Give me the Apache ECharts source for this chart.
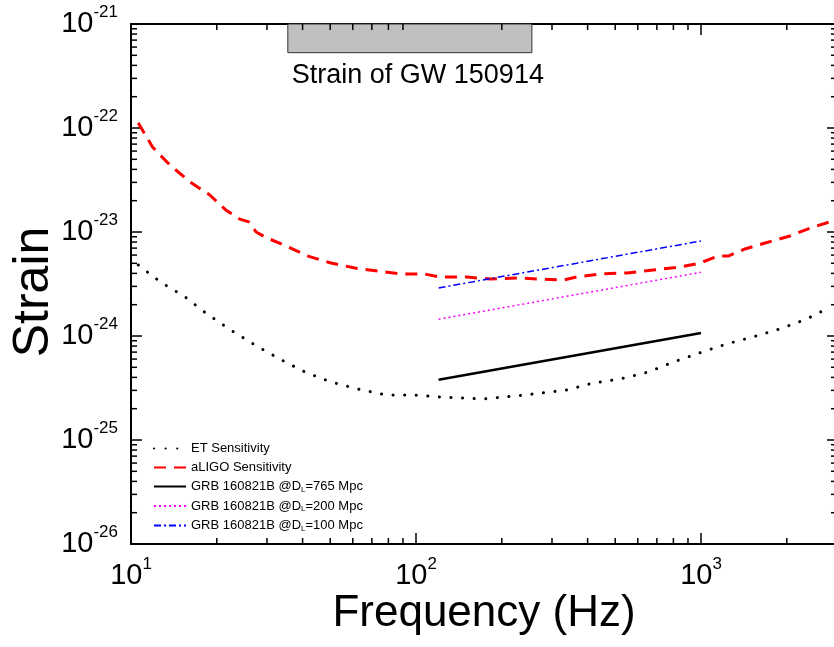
<!DOCTYPE html>
<html>
<head>
<meta charset="utf-8">
<script src="https://cdn.jsdelivr.net/npm/echarts@6/dist/echarts.min.js"></script>
<style>
  html, body { margin: 0; padding: 0; background: #fff; }
  #chart { width: 834px; height: 647px; }
</style>
</head>
<body>
<div id="chart"></div>
<script>
  // ET sensitivity curve (black dotted)
  const etFreq = [10.6, 12.7, 15.5, 18.3, 22.4, 27.2, 33.3, 40.8, 50.4, 62.6, 78.5, 97.6, 122, 172, 241, 339, 418, 520, 652, 798, 991, 1233, 1522, 1891, 2355, 2837];
  const etStrain = [4.82e-24, 3.3e-24, 2.37e-24, 1.66e-24, 1.14e-24, 8.2e-25, 6.0e-25, 4.5e-25, 3.61e-25, 3.09e-25, 2.71e-25, 2.71e-25, 2.59e-25, 2.48e-25, 2.71e-25, 3.03e-25, 3.53e-25, 3.86e-25, 4.5e-25, 5.6e-25, 6.9e-25, 8.4e-25, 9.8e-25, 1.17e-24, 1.46e-24, 1.9e-24];

  // aLIGO sensitivity curve (red dashed)
  const ligoFreq = [10.6, 11.9, 13.7, 16.1, 18.9, 21.5, 24.1, 25.9, 27.5, 29.5, 35.6, 41.8, 50.3, 61.1, 73.6, 88.5, 107, 121, 151, 182, 226, 272, 328, 367, 443, 550, 680, 844, 991, 1148, 1245, 1426, 1679, 2052, 2411, 2904];
  const ligoStrain = [1.12e-22, 6.56e-23, 4.4e-23, 3.03e-23, 2.27e-23, 1.63e-23, 1.33e-23, 1.25e-23, 1.0e-23, 8.95e-24, 7.18e-24, 5.87e-24, 5.03e-24, 4.5e-24, 4.22e-24, 3.95e-24, 3.95e-24, 3.69e-24, 3.69e-24, 3.53e-24, 3.61e-24, 3.53e-24, 3.45e-24, 3.7e-24, 3.95e-24, 4.04e-24, 4.31e-24, 4.6e-24, 5.03e-24, 5.87e-24, 5.87e-24, 6.87e-24, 7.84e-24, 9.16e-24, 1.09e-23, 1.28e-23];

  // GRB 160821B strain at three distances
  const grbFreq = [120, 1000];
  const grb765 = [3.8e-25, 1.07e-24];
  const grb200 = [1.45e-24, 4.1e-24];
  const grb100 = [2.9e-24, 8.2e-24];

  // GW150914 strain band
  const gwBoxFreq = [35.5, 255];
  const gwBoxStrain = [5.3e-22, 1e-21];

  // axis ranges and ticks
  const X_MIN = 10, X_MAX = 3000;
  const Y_MIN = 1e-26, Y_MAX = 1e-21;
  const minorSteps = [2, 3, 4, 5, 6, 7, 8, 9];
  const xDecades = [10, 100, 1000];
  const yDecades = [1e-26, 1e-25, 1e-24, 1e-23, 1e-22];

  // x minor ticks: [freq, anchor strain]
  const xMinor = [];
  xDecades.forEach(d => minorSteps.forEach(m => { if (d * m < X_MAX) xMinor.push([d * m, 1e-24]); }));
  // y ticks: [anchor freq, strain, isMajor]
  const yTicks = [];
  yDecades.forEach((d, i) => {
    if (i > 0) yTicks.push([X_MIN, d, 1]);
    minorSteps.forEach(m => yTicks.push([X_MIN, d * m, 0]));
  });

  const FONT = '"Liberation Sans", Arial, sans-serif';
  const pair = (xs, ys) => xs.map((x, i) => [x, ys[i]]);

  function powLabel(v) {
    if (!(v > 0)) return '';
    const e = Math.log10(v);
    if (Math.abs(e - Math.round(e)) > 1e-6) return '';
    return '10{sup|' + Math.round(e) + '}';
  }
  const labelRich = {
    sup: { fontSize: 17, fontFamily: FONT, color: '#000', verticalAlign: 'top', lineHeight: 40 }
  };

  const chart = echarts.init(document.getElementById('chart'), null, { renderer: 'canvas' });

  const tick = (x1, y1, x2, y2) => ({
    type: 'line', shape: { x1, y1, x2, y2 }, style: { stroke: '#000', lineWidth: 1.5 }
  });

  chart.setOption({
    animation: false,
    backgroundColor: '#fff',
    grid: { left: 131, top: 24, width: 706, bottom: 103, outerBoundsMode: 'none' },
    legend: {
      data: ['ET Sensitivity', 'aLIGO Sensitivity', 'GRB 160821B @D_L=765 Mpc', 'GRB 160821B @D_L=200 Mpc', 'GRB 160821B @D_L=100 Mpc'],
      orient: 'vertical',
      left: 148,
      top: 437,
      itemWidth: 32,
      itemHeight: 13,
      itemGap: 6,
      itemStyle: { opacity: 0, borderWidth: 0 },
      formatter: name => name.replace('D_L', 'D{sub|L}'),
      textStyle: {
        fontFamily: FONT, fontSize: 13, color: '#000',
        rich: { sub: { fontFamily: FONT, fontSize: 8, color: '#000', verticalAlign: 'bottom', padding: [6, 0, 0, 0] } }
      }
    },
    xAxis: [
      {
        type: 'log', logBase: 10, min: X_MIN, max: X_MAX,
        name: 'Frequency (Hz)', nameLocation: 'middle', nameGap: 48, nameMoveOverlap: false,
        nameTextStyle: { fontFamily: FONT, fontSize: 44, color: '#000' },
        axisLine: { lineStyle: { color: '#000', width: 2 } },
        axisTick: { inside: true, length: 11, lineStyle: { color: '#000', width: 1.5 } },
        axisLabel: { formatter: powLabel, fontFamily: FONT, fontSize: 29, color: '#000', margin: 12, showMaxLabel: false, rich: labelRich },
        splitLine: { show: false }
      },
      {
        type: 'log', logBase: 10, min: X_MIN, max: X_MAX, position: 'top',
        axisLine: { lineStyle: { color: '#000', width: 2 } },
        axisTick: { inside: true, length: 11, lineStyle: { color: '#000', width: 1.5 } },
        axisLabel: { show: false },
        splitLine: { show: false }
      }
    ],
    yAxis: {
      // extent comes out as 1e-26 .. 1e-21 from the tick data (log scale nicing)
      type: 'log', logBase: 10, splitNumber: 5,
      name: 'Strain', nameLocation: 'middle', nameGap: 72, nameMoveOverlap: false,
      nameTextStyle: { fontFamily: FONT, fontSize: 50, color: '#000', padding: [0, 16, 0, 0] },
      axisLine: { lineStyle: { color: '#000', width: 2 } },
      axisTick: { inside: true, length: 11, lineStyle: { color: '#000', width: 1.5 } },
      axisLabel: { formatter: powLabel, fontFamily: FONT, fontSize: 29, color: '#000', margin: 13, rich: labelRich },
      splitLine: { show: false }
    },
    series: [
      {
        name: 'ET Sensitivity', type: 'line', symbol: 'none',
        data: pair(etFreq, etStrain),
        lineStyle: { color: '#000', width: 3, type: [0.1, 11.5], cap: 'round' },
        itemStyle: { color: '#000' }
      },
      {
        name: 'aLIGO Sensitivity', type: 'line', symbol: 'none',
        data: pair(ligoFreq, ligoStrain),
        lineStyle: { color: '#ff0000', width: 3, type: [12, 8] },
        itemStyle: { color: '#ff0000' },
        markArea: {
          silent: true,
          itemStyle: { color: '#c0c0c0', borderColor: '#333', borderWidth: 1 },
          label: {
            show: true, position: 'bottom', distance: 9, offset: [8, 0],
            formatter: 'Strain of GW 150914',
            fontFamily: FONT, fontSize: 27, color: '#000'
          },
          data: [[
            { coord: [gwBoxFreq[0], gwBoxStrain[0]] },
            { coord: [gwBoxFreq[1], gwBoxStrain[1]] }
          ]]
        }
      },
      {
        name: 'GRB 160821B @D_L=765 Mpc', type: 'line', symbol: 'none',
        data: pair(grbFreq, grb765),
        lineStyle: { color: '#000', width: 2.5 },
        itemStyle: { color: '#000' }
      },
      {
        name: 'GRB 160821B @D_L=200 Mpc', type: 'line', symbol: 'none',
        data: pair(grbFreq, grb200),
        lineStyle: { color: '#ff00ff', width: 1.5, type: [2, 3] },
        itemStyle: { color: '#ff00ff' }
      },
      {
        name: 'GRB 160821B @D_L=100 Mpc', type: 'line', symbol: 'none',
        data: pair(grbFreq, grb100),
        lineStyle: { color: '#0000ff', width: 1.5, type: [7, 3, 2, 3] },
        itemStyle: { color: '#0000ff' }
      },
      {
        // minor ticks on bottom and top axes
        type: 'custom', silent: true,
        data: xMinor,
        renderItem: (params, api) => {
          const b = api.coord([api.value(0), Y_MIN]);
          const t = api.coord([api.value(0), Y_MAX]);
          return { type: 'group', children: [tick(b[0], b[1], b[0], b[1] - 6), tick(t[0], t[1], t[0], t[1] + 6)] };
        }
      },
      {
        // minor ticks on the left axis, all ticks on the right side
        type: 'custom', silent: true,
        data: yTicks,
        renderItem: (params, api) => {
          const l = api.coord([X_MIN, api.value(1)]);
          const r = api.coord([X_MAX, api.value(1)]);
          const major = api.value(2) === 1;
          const kids = [tick(r[0], r[1], r[0] - (major ? 10 : 6), r[1])];
          if (!major) kids.push(tick(l[0], l[1], l[0] + 6, l[1]));
          return { type: 'group', children: kids };
        }
      }
    ]
  });
</script>
</body>
</html>
